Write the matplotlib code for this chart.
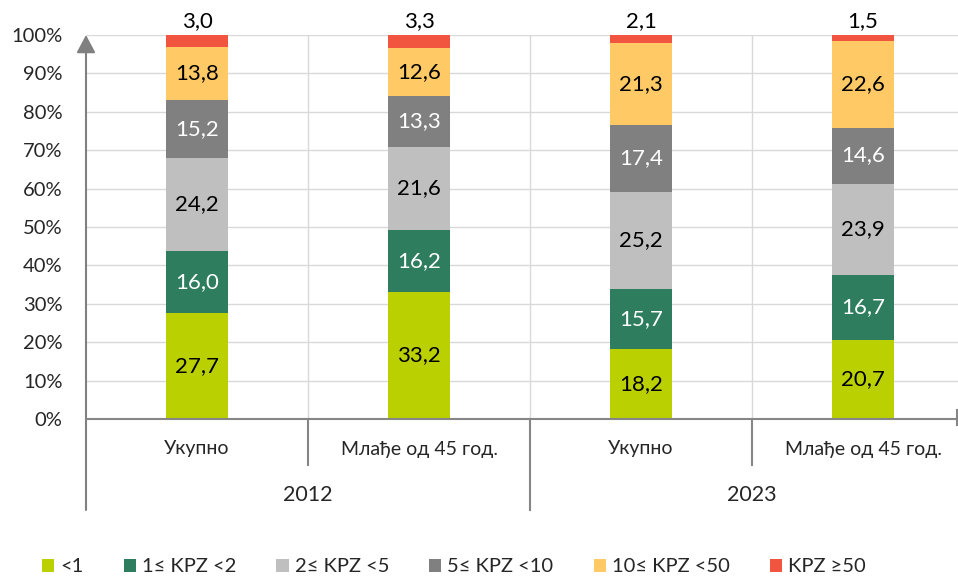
import matplotlib
matplotlib.use('Agg')
import matplotlib.pyplot as plt
from matplotlib.patches import Patch
import numpy as np

plt.rcParams['font.family'] = ['Lato', 'DejaVu Sans']

categories = ['Укупно', 'Млађе од 45 год.', 'Укупно', 'Млађе од 45 год.']
years = ['2012', '2023']
series_names = ['<1', '1≤ KPZ <2', '2≤ KPZ <5', '5≤ KPZ <10', '10≤ KPZ <50', 'KPZ ≥50']
lt1 = [27.7, 33.2, 18.2, 20.7]
kpz1_2 = [16.0, 16.2, 15.7, 16.7]
kpz2_5 = [24.2, 21.6, 25.2, 23.9]
kpz5_10 = [15.2, 13.3, 17.4, 14.6]
kpz10_50 = [13.8, 12.6, 21.3, 22.6]
kpz50 = [3.0, 3.3, 2.1, 1.5]
ytick_values = [0, 10, 20, 30, 40, 50, 60, 70, 80, 90, 100]

series = [lt1, kpz1_2, kpz2_5, kpz5_10, kpz10_50, kpz50]
colors = ['#bbd000', '#2e7d5e', '#bfbfbf', '#808080', '#ffc966', '#f15540']
label_colors = ['black', 'white', 'black', 'white', 'black', 'black']

data = np.array(series, dtype=float)
totals = data.sum(axis=0)
norm = data / totals * 100

W, H = 958, 577
fig = plt.figure(figsize=(W / 100, H / 100), dpi=100)
ax_left, ax_right, ax_top, ax_bottom = 86, 86 + 4 * 222, 35, 419
ax = fig.add_axes([ax_left / W, (H - ax_bottom) / H, (ax_right - ax_left) / W, (ax_bottom - ax_top) / H])
ax.set_xlim(0, 4)
ax.set_ylim(0, 100)
for s in ax.spines.values():
    s.set_visible(False)

grid_c = '#d9d9d9'
axis_c = '#868686'
text_c = '#262626'

ax.set_yticks(ytick_values)
ax.set_yticklabels([f'{v}%' for v in ytick_values], fontsize=14.5, color=text_c)
ax.tick_params(axis='y', length=0, pad=17)
ax.set_xticks([])
ax.yaxis.grid(True, color=grid_c, lw=1)
ax.set_axisbelow(True)
for xv in [1, 2, 3]:
    ax.axvline(xv, color=grid_c, lw=1, zorder=0)

x = np.arange(len(categories)) + 0.5
bottom = np.zeros(len(categories))
for i, (vals, nvals) in enumerate(zip(data, norm)):
    ax.bar(x, nvals, width=0.28, bottom=bottom, color=colors[i], zorder=2, label=series_names[i])
    for j in range(len(categories)):
        txt = f'{vals[j]:.1f}'.replace('.', ',')
        if i == len(series) - 1:
            ax.text(x[j], 103.6, txt, ha='center', va='center', fontsize=16, color='black',
                    clip_on=False)
        else:
            ax.text(x[j], bottom[j] + nvals[j] / 2, txt, ha='center', va='center', fontsize=16,
                    color=label_colors[i], zorder=3)
    bottom += nvals

# x axis line
ax.plot([0, 4], [0, 0], color=axis_c, lw=1.5, clip_on=False, zorder=4)
# y axis with arrow
ax.annotate('', xy=(0, 1.0), xycoords='axes fraction', xytext=(0, -0.237), textcoords='axes fraction',
            arrowprops=dict(arrowstyle='-|>,head_length=0.75,head_width=0.4', mutation_scale=14.4,
                            color='#808080', lw=1.5, shrinkA=0, shrinkB=0), annotation_clip=False)
xt = ax.get_xaxis_transform()
for xv in [1, 3]:
    ax.plot([xv, xv], [0, -0.12], color=axis_c, lw=1.5, transform=xt, clip_on=False)
ax.plot([2, 2], [0, -0.237], color=axis_c, lw=1.5, transform=xt, clip_on=False)
ax.plot([(957 - 86) / 222] * 2, [(419 - 410) / 384, -(425 - 419) / 384], color=axis_c, lw=1.5,
        transform=xt, clip_on=False)

for j, c in enumerate(categories):
    ax.text(x[j], -0.078, c, transform=xt, ha='center', va='center', fontsize=14, color=text_c)
for k, yv in enumerate(years):
    ax.text(1 + 2 * k, -0.198, yv, transform=xt, ha='center', va='center', fontsize=15.5, color=text_c)

handles = [Patch(facecolor=colors[i], label=series_names[i]) for i in range(len(series))]
leg = fig.legend(handles=handles, ncol=6, loc='center', bbox_to_anchor=(454 / W, 10 / H), frameon=False,
                 fontsize=14.5, handlelength=0.6, handleheight=0.6, handletextpad=0.3, columnspacing=2.0,
                 labelcolor=text_c, borderpad=0, borderaxespad=0)

fig.savefig('out.png', dpi=100)
